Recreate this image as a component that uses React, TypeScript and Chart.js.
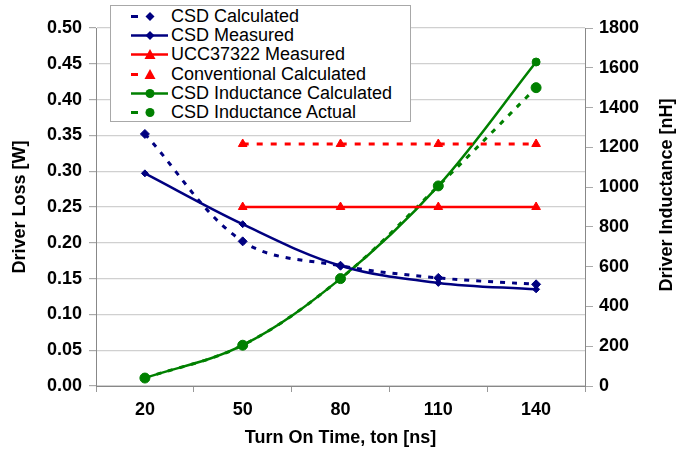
import React, { useEffect, useRef } from "react";
import { Chart, registerables } from "chart.js";

Chart.register(...registerables);

const categories = ["20", "50", "80", "110", "140"];
const csdCalculated = [0.352, 0.202, 0.168, 0.151, 0.142];
const csdMeasured = [0.297, 0.226, 0.168, 0.144, 0.135];
const uccMeasured = [null, 0.25, 0.25, 0.25, 0.25];
const conventionalCalculated = [null, 0.338, 0.338, 0.338, 0.338];
const inductanceCalculated = [40, 205, 540, 1006, 1629];
const inductanceActual = [40, 205, 540, 1006, 1500];

const NAVY = "#000080";
const RED = "#ff0000";
const GREEN = "#008000";
const FONT = "'Liberation Sans', Arial, Helvetica, sans-serif";

type LegendItem = { label: string; color: string; dashed: boolean; marker: "diamond" | "triangle" | "circle" };
const legendItems: LegendItem[] = [
  { label: "CSD Calculated", color: NAVY, dashed: true, marker: "diamond" },
  { label: "CSD Measured", color: NAVY, dashed: false, marker: "diamond" },
  { label: "UCC37322 Measured", color: RED, dashed: false, marker: "triangle" },
  { label: "Conventional Calculated", color: RED, dashed: true, marker: "triangle" },
  { label: "CSD Inductance Calculated", color: GREEN, dashed: false, marker: "circle" },
  { label: "CSD Inductance Actual", color: GREEN, dashed: true, marker: "circle" },
];

function Marker({ kind, color, cx, cy }: { kind: string; color: string; cx: number; cy: number }) {
  if (kind === "diamond") {
    const r = 4.5;
    return <polygon points={`${cx},${cy - r} ${cx + r},${cy} ${cx},${cy + r} ${cx - r},${cy}`} fill={color} />;
  }
  if (kind === "triangle") {
    const r = 5.5;
    return <polygon points={`${cx},${cy - r} ${cx + r},${cy + r * 0.8} ${cx - r},${cy + r * 0.8}`} fill={color} />;
  }
  return <circle cx={cx} cy={cy} r={4.5} fill={color} />;
}

const rightTitlePlugin = {
  id: "rightTitle",
  afterDraw(chart: any) {
    const ctx = chart.ctx;
    ctx.save();
    ctx.translate(667, 195);
    ctx.rotate(-Math.PI / 2);
    ctx.font = `bold 18px ${FONT}`;
    ctx.fillStyle = "#000";
    ctx.textAlign = "center";
    ctx.textBaseline = "middle";
    ctx.fillText("Driver Inductance [nH]", 0, 0);
    ctx.restore();
  },
};

export default function App() {
  const canvasRef = useRef<HTMLCanvasElement | null>(null);

  useEffect(() => {
    document.body.style.margin = "0";
    const canvas = canvasRef.current;
    if (!canvas) return;
    const tension = 0.35;
    const chart = new Chart(canvas, {
      type: "line",
      data: {
        labels: categories,
        datasets: [
          {
            label: "CSD Calculated",
            data: csdCalculated,
            yAxisID: "y",
            borderColor: NAVY,
            backgroundColor: NAVY,
            borderWidth: 3,
            borderDash: [5, 7],
            pointStyle: "rectRot",
            pointRadius: 4.5,
            pointBorderWidth: 1,
            tension,
          },
          {
            label: "CSD Measured",
            data: csdMeasured,
            yAxisID: "y",
            borderColor: NAVY,
            backgroundColor: NAVY,
            borderWidth: 2.5,
            pointStyle: "rectRot",
            pointRadius: 3.5,
            pointBorderWidth: 1,
            tension,
          },
          {
            label: "UCC37322 Measured",
            data: uccMeasured,
            yAxisID: "y",
            borderColor: RED,
            backgroundColor: RED,
            borderWidth: 2.5,
            pointStyle: "triangle",
            pointRadius: 5,
            pointBorderWidth: 1,
            tension: 0,
          },
          {
            label: "Conventional Calculated",
            data: conventionalCalculated,
            yAxisID: "y",
            borderColor: RED,
            backgroundColor: RED,
            borderWidth: 3,
            borderDash: [6, 8],
            pointStyle: "triangle",
            pointRadius: 5,
            pointBorderWidth: 1,
            tension: 0,
          },
          {
            label: "CSD Inductance Calculated",
            data: inductanceCalculated,
            yAxisID: "y1",
            borderColor: GREEN,
            backgroundColor: GREEN,
            borderWidth: 2.5,
            pointStyle: "circle",
            pointRadius: 4,
            pointBorderWidth: 1,
            tension,
          },
          {
            label: "CSD Inductance Actual",
            data: inductanceActual,
            yAxisID: "y1",
            borderColor: GREEN,
            backgroundColor: GREEN,
            borderWidth: 3,
            borderDash: [5, 7],
            pointStyle: "circle",
            pointRadius: 5,
            pointBorderWidth: 1,
            tension,
          },
        ],
      },
      options: {
        responsive: false,
        animation: false,
        devicePixelRatio: 1,
        layout: { padding: { top: 28, left: 0, right: 0, bottom: 0 } },
        plugins: {
          legend: { display: false },
          tooltip: { enabled: false },
        },
        scales: {
          x: {
            type: "category",
            offset: true,
            grid: {
              offset: true,
              drawOnChartArea: false,
              drawTicks: true,
              tickLength: 6,
              tickColor: "#999",
              color: "#999",
            },
            border: { color: "#888", width: 1 },
            ticks: { color: "#000", font: { family: FONT, size: 18, weight: "bold" }, padding: 7 },
            title: {
              display: true,
              text: "Turn On Time, ton [ns]",
              color: "#000",
              font: { family: FONT, size: 18, weight: "bold" },
              padding: { top: 0, bottom: 4 },
            },
            afterFit: (s: any) => {
              s.height = 67;
            },
          },
          y: {
            position: "left",
            min: 0,
            max: 0.5,
            ticks: {
              stepSize: 0.05,
              color: "#000",
              font: { family: FONT, size: 18, weight: "bold" },
              padding: 7,
              callback: (v: any) => Number(v).toFixed(2),
            },
            grid: { color: "#d0d0d0", tickColor: "#aaa", tickLength: 7, lineWidth: 1.2 },
            border: { color: "#888", width: 1 },
            title: {
              display: true,
              text: "Driver Loss [W]",
              color: "#000",
              font: { family: FONT, size: 18, weight: "bold" },
              padding: { top: 9, bottom: 0 },
            },
            afterFit: (s: any) => {
              s.width = 96;
            },
          },
          y1: {
            position: "right",
            min: 0,
            max: 1800,
            ticks: {
              stepSize: 200,
              color: "#000",
              font: { family: FONT, size: 18, weight: "bold" },
              padding: 6,
              callback: (v: any) => String(Math.round(Number(v))),
            },
            grid: { drawOnChartArea: false, tickColor: "#aaa", tickLength: 8 },
            border: { color: "#888", width: 1 },
            afterFit: (s: any) => {
              s.width = 107;
            },
          },
        },
      },
      plugins: [rightTitlePlugin],
    } as any);
    return () => chart.destroy();
  }, []);

  return (
    <div style={{ position: "fixed", left: 0, top: 0, width: 692, height: 453, background: "#fff" }}>
      <canvas ref={canvasRef} width={692} height={453} style={{ display: "block" }} />
      <div
        style={{
          position: "absolute",
          left: 110,
          top: 5,
          width: 301,
          height: 117,
          border: "1px solid #a8a8a8",
          background: "#fff",
          boxSizing: "border-box",
          paddingTop: 1,
        }}
      >
        {legendItems.map((it) => (
          <div
            key={it.label}
            style={{ position: "relative", height: 19.2, display: "flex", alignItems: "center" }}
          >
            <svg width={40} height={19} style={{ position: "absolute", left: 19, top: 0 }}>
              {it.dashed ? (
                <line x1={1} y1={9.5} x2={8} y2={9.5} stroke={it.color} strokeWidth={3} />
              ) : (
                <line x1={1} y1={9.5} x2={38} y2={9.5} stroke={it.color} strokeWidth={2.5} />
              )}
              <Marker kind={it.marker} color={it.color} cx={20} cy={9.5} />
            </svg>
            <span
              style={{
                position: "absolute",
                left: 60,
                fontFamily: FONT,
                fontSize: 18,
                color: "#000",
                lineHeight: "19px",
                whiteSpace: "nowrap",
              }}
            >
              {it.label}
            </span>
          </div>
        ))}
      </div>
    </div>
  );
}
